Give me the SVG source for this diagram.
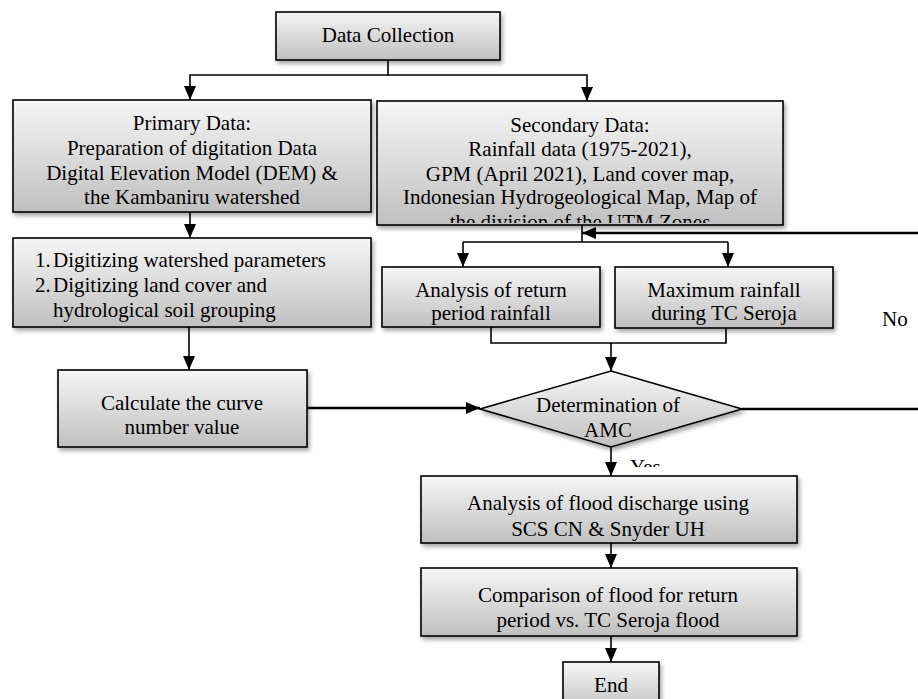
<svg xmlns="http://www.w3.org/2000/svg" width="918" height="699" viewBox="0 0 918 699">
<style>
.box{fill:url(#g);stroke:#000;stroke-width:1.6;filter:url(#sh)}
.t{font-family:"Liberation Serif","Times New Roman",serif;font-size:21px;fill:#000}
.c{text-anchor:middle}
.ln{fill:none;stroke:#000;stroke-width:1.6}
.thick{stroke-width:2.6}
</style>
<defs>
<linearGradient id="g" x1="0" y1="0" x2="0" y2="1">
<stop offset="0" stop-color="#f6f6f6"/>
<stop offset="1" stop-color="#c0c0c0"/>
</linearGradient>
<filter id="sh" x="-10%" y="-10%" width="130%" height="140%">
<feDropShadow dx="2" dy="3" stdDeviation="2" flood-color="#000" flood-opacity="0.35"/>
</filter>
<marker id="a" viewBox="0 0 14 12" refX="14" refY="6" markerWidth="14" markerHeight="12" markerUnits="userSpaceOnUse" orient="auto">
<path d="M0,0 L14,6 L0,12 z" fill="#000"/>
</marker>
<clipPath id="clipSec"><rect x="377" y="101" width="406" height="122"/></clipPath>
<clipPath id="clipYes"><rect x="620" y="440" width="60" height="27"/></clipPath>
</defs>
<rect width="918" height="699" fill="#fff"/>

<g id="connectors">
<path class="ln" d="M388 60 V75 H190 V100" marker-end="url(#a)"/>
<path class="ln" d="M388 75 H587 V101" marker-end="url(#a)"/>
<path class="ln" d="M190 212 V238" marker-end="url(#a)"/>
<path class="ln" d="M189 327 V370" marker-end="url(#a)"/>
<path class="ln thick" d="M307 408 H480" marker-end="url(#a)"/>
<path class="ln" d="M582 225 V242 M463 242 H728"/>
<path class="ln" d="M463 242 V267" marker-end="url(#a)"/>
<path class="ln" d="M728 242 V267" marker-end="url(#a)"/>
<path class="ln thick" d="M918 233 H582" marker-end="url(#a)"/>
<path class="ln" d="M491 327 V343 H726 V328"/>
<path class="ln" d="M611 343 V371" marker-end="url(#a)"/>
<path class="ln thick" d="M742 409 H918"/>
<path class="ln" d="M611 447 V476" marker-end="url(#a)"/>
<path class="ln" d="M611 543 V568" marker-end="url(#a)"/>
<path class="ln" d="M611 636 V662" marker-end="url(#a)"/>
<text class="t" x="882" y="326">No</text>
<text class="t" x="630" y="474" clip-path="url(#clipYes)">Yes</text>
</g>

<g id="data-collection">
<rect class="box" x="276" y="12" width="224" height="48"/>
<text class="t c" x="388" y="42">Data Collection</text>
</g>

<g id="primary-data">
<rect class="box" x="13" y="100" width="358" height="112"/>
<text class="t c" x="192" y="130">Primary Data:</text>
<text class="t c" x="192" y="155">Preparation of digitation Data</text>
<text class="t c" x="192" y="180">Digital Elevation Model (DEM) &amp;</text>
<text class="t c" x="192" y="204">the Kambaniru watershed</text>
</g>

<g id="secondary-data">
<rect class="box" x="377" y="101" width="406" height="124"/>
<g clip-path="url(#clipSec)">
<text class="t c" x="580" y="132">Secondary Data:</text>
<text class="t c" x="580" y="156">Rainfall data (1975-2021),</text>
<text class="t c" x="580" y="181">GPM (April 2021), Land cover map,</text>
<text class="t c" x="580" y="204">Indonesian Hydrogeological Map, Map of</text>
<text class="t c" x="580" y="229">the division of the UTM Zones</text>
</g>
</g>

<g id="digitizing">
<rect class="box" x="13" y="238" width="358" height="89"/>
<text class="t" x="35" y="267">1.</text>
<text class="t" x="53" y="267">Digitizing watershed parameters</text>
<text class="t" x="35" y="292">2.</text>
<text class="t" x="53" y="292">Digitizing land cover and</text>
<text class="t" x="53" y="317">hydrological soil grouping</text>
</g>

<g id="curve-number">
<rect class="box" x="58" y="370" width="249" height="77"/>
<text class="t c" x="182" y="410">Calculate the curve</text>
<text class="t c" x="182" y="434">number value</text>
</g>

<g id="return-period">
<rect class="box" x="382" y="267" width="218" height="60"/>
<text class="t c" x="491" y="297">Analysis of return</text>
<text class="t c" x="491" y="320">period rainfall</text>
</g>

<g id="max-rainfall">
<rect class="box" x="615" y="267" width="218" height="61"/>
<text class="t c" x="724" y="297">Maximum rainfall</text>
<text class="t c" x="724" y="320">during TC Seroja</text>
</g>

<g id="amc">
<polygon class="box" points="480,409 611,371 742,409 611,447"/>
<text class="t c" x="608" y="412">Determination of</text>
<text class="t c" x="608" y="437">AMC</text>
</g>

<g id="flood-discharge">
<rect class="box" x="421" y="476" width="376" height="67"/>
<text class="t c" x="608" y="510">Analysis of flood discharge using</text>
<text class="t c" x="608" y="536">SCS CN &amp; Snyder UH</text>
</g>

<g id="comparison">
<rect class="box" x="421" y="568" width="376" height="68"/>
<text class="t c" x="608" y="602">Comparison of flood for return</text>
<text class="t c" x="608" y="627">period vs. TC Seroja flood</text>
</g>

<g id="end">
<rect class="box" x="563" y="662" width="96" height="50"/>
<text class="t c" x="611" y="692">End</text>
</g>
</svg>
